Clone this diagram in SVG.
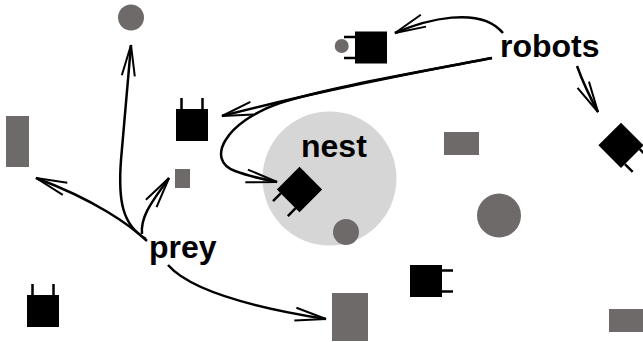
<svg xmlns="http://www.w3.org/2000/svg" xmlns:xlink="http://www.w3.org/1999/xlink" width="643" height="342" viewBox="0 0 643 342">
  <style>
    .prey { fill: #6e6a69; }
    .nest { fill: #d6d6d6; }
    .label { font-family: "Liberation Sans", Arial, sans-serif; font-weight: bold; font-size: 32px; fill: #000; }
    .link { fill: none; stroke: #000; stroke-width: 2.5; marker-end: url(#open-arrow); }
  </style>
  <defs>
    <marker id="open-arrow" markerUnits="userSpaceOnUse" viewBox="-34 -10 36 20" markerWidth="36" markerHeight="20" refX="0" refY="0" orient="auto" overflow="visible">
      <path d="M-31,-6.5 L0,0 L-31,6.5" fill="none" stroke="#000" stroke-width="2"/>
    </marker>
    <!-- robot: black body with two gripper prongs pointing towards -y -->
    <g id="robot">
      <rect x="-16" y="-16" width="32" height="32" fill="#000"/>
      <path d="M-10.5,-16 V-27 M10.5,-16 V-27" stroke="#000" stroke-width="2.5" fill="none"/>
    </g>
  </defs>

  <rect width="643" height="342" fill="#fff"/>

  <!-- nest area -->
  <g id="nest">
    <circle class="nest" cx="329.5" cy="178.5" r="67"/>
    <text class="label" x="301" y="157">nest</text>
  </g>

  <!-- prey items -->
  <g id="prey-circle-top"><circle class="prey" cx="131" cy="17.5" r="13"/></g>
  <g id="prey-rect-left"><rect class="prey" x="6" y="116" width="23" height="51"/></g>
  <g id="prey-rect-small"><rect class="prey" x="175" y="169" width="15" height="19"/></g>
  <g id="prey-circle-nest"><circle class="prey" cx="346" cy="232" r="13"/></g>
  <g id="prey-rect-mid"><rect class="prey" x="444" y="132" width="35" height="23"/></g>
  <g id="prey-circle-right"><circle class="prey" cx="499" cy="215.5" r="22"/></g>
  <g id="prey-rect-bottom"><rect class="prey" x="332" y="293" width="36" height="48"/></g>
  <g id="prey-rect-corner"><rect class="prey" x="609" y="309" width="34" height="23"/></g>

  <!-- robots -->
  <g id="robot-top">
    <circle class="prey" cx="341.7" cy="46" r="7"/>
    <use xlink:href="#robot" href="#robot" transform="translate(371,47.5) rotate(-90)"/>
  </g>
  <g id="robot-left"><use xlink:href="#robot" href="#robot" transform="translate(192,125)"/></g>
  <g id="robot-bottom-left"><use xlink:href="#robot" href="#robot" transform="translate(43,311)"/></g>
  <g id="robot-nest"><use xlink:href="#robot" href="#robot" transform="translate(299.5,189.5) rotate(-135)"/></g>
  <g id="robot-right"><use xlink:href="#robot" href="#robot" transform="translate(621,145.3) rotate(135)"/></g>
  <g id="robot-bottom"><use xlink:href="#robot" href="#robot" transform="translate(426,281) rotate(90)"/></g>

  <!-- labels -->
  <g id="label-robots"><text class="label" x="500" y="57">robots</text></g>
  <g id="label-prey"><text class="label" x="149" y="258">prey</text></g>

  <!-- connectors -->
  <g id="connectors">
    <path class="link" d="M503,33 C480,5 425,20 395,33"/>
    <path class="link" d="M492,58 Q330,88 222,116"/>
    <path class="link" d="M492,58 C420,72 330,87 280,103 C225,122 205,160 235,171 C248,176 262,179 277,182"/>
    <path class="link" d="M577,66 Q585,88 598,112"/>
    <path class="link" d="M146,239 C122,225 118,200 121,160 L131,45"/>
    <path class="link" d="M147,241 C130,225 95,200 36,178"/>
    <path class="link" d="M142,234 C140,215 155,198 169,178"/>
    <path class="link" d="M168,265 C190,290 250,307 326,319"/>
  </g>
</svg>
